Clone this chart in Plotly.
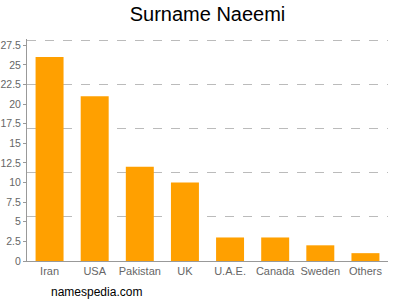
import plotly.graph_objects as go

countries = ["Iran", "USA", "Pakistan", "UK", "U.A.E.", "Canada", "Sweden", "Others"]
counts = [26, 21, 12, 10, 3, 3, 2, 1]
ytick_vals = [0, 2.5, 5, 7.5, 10, 12.5, 15, 17.5, 20, 22.5, 25, 27.5]
ytick_text = ["0", "2.5", "5", "7.5", "10", "12.5", "15", "17.5", "20", "22.5", "25", "27.5"]
ymax = 28.3
grid_vals = [28.15 * k / 5 for k in range(1, 6)]

fig = go.Figure()
fig.add_trace(go.Bar(x=countries, y=counts, marker_color="#FFA000", marker_line_width=0))
fig.add_trace(go.Scatter(x=[countries[0]], y=[0], yaxis="y2", mode="markers",
                         marker=dict(opacity=0), showlegend=False, hoverinfo="skip"))

fig.update_layout(
    width=400, height=300,
    margin=dict(l=27, r=12, t=39, b=39),
    paper_bgcolor="white", plot_bgcolor="white",
    showlegend=False,
    bargap=0.38,
    title=dict(text="Surname Naeemi", xref="paper", x=0.5, xanchor="center", y=0.955, yanchor="middle",
               font=dict(family="Liberation Sans, Arial, sans-serif", size=20, color="#000")),
    xaxis=dict(range=[-0.5, 7.5], showline=True, linecolor="#999", linewidth=1, automargin=False,
               ticks="", tickfont=dict(family="Liberation Sans, Arial, sans-serif", size=11, color="#666"),
               showgrid=False, fixedrange=True),
    yaxis=dict(range=[0, ymax], tickvals=ytick_vals, ticktext=ytick_text, showline=True,
               automargin=False,
               linecolor="#999", linewidth=1, ticks="outside", ticklen=3, tickcolor="#999",
               tickfont=dict(family="Liberation Sans, Arial, sans-serif", size=10.5, color="#666"),
               showgrid=False, zeroline=False),
    yaxis2=dict(range=[0, ymax], overlaying="y", side="right", tickvals=grid_vals,
                automargin=False,
                showticklabels=False, showgrid=True, gridcolor="#bbb", griddash="dash",
                gridwidth=1, zeroline=False, showline=False),
    annotations=[dict(text="namespedia.com", xref="paper", yref="paper", x=0.061, y=-0.14,
                      xanchor="left", yanchor="middle", showarrow=False,
                      font=dict(family="Liberation Sans, Arial, sans-serif", size=12, color="#000"))],
)
fig.write_html("out.html")
